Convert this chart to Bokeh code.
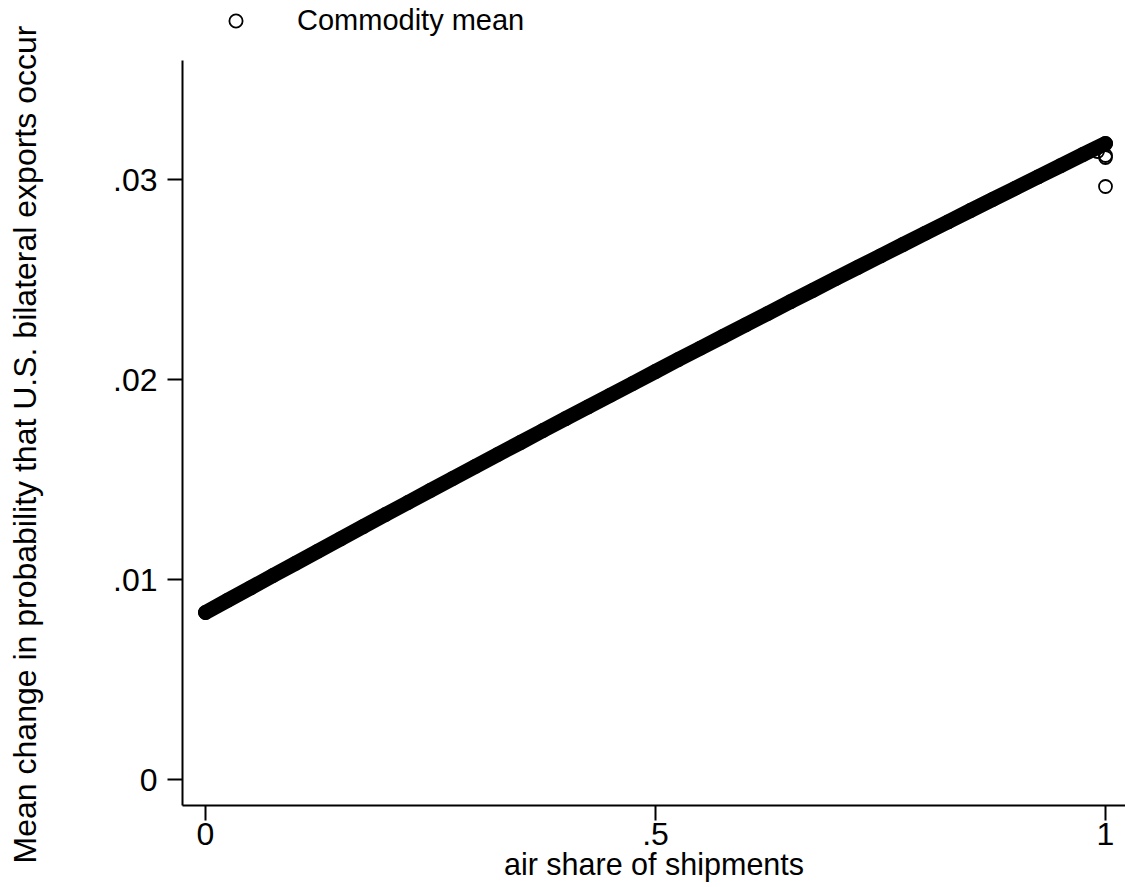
from bokeh.plotting import figure
from bokeh.models import Range1d, FixedTicker, Legend, LegendItem, Label
from bokeh.embed import file_html
from bokeh.resources import INLINE

# Commodity means (dense band of points)
band_x = [0.0, 0.025, 0.05, 0.075, 0.1, 0.125, 0.15, 0.175, 0.2, 0.225,
          0.25, 0.275, 0.3, 0.325, 0.35, 0.375, 0.4, 0.425, 0.45, 0.475,
          0.5, 0.525, 0.55, 0.575, 0.6, 0.625, 0.65, 0.675, 0.7, 0.725,
          0.75, 0.775, 0.8, 0.825, 0.85, 0.875, 0.9, 0.925, 0.95, 0.975, 1.0]
band_y = [0.00835, 0.00897, 0.00958, 0.01020, 0.01081, 0.01142, 0.01203, 0.01264, 0.01325, 0.01385,
          0.01446, 0.01506, 0.01566, 0.01626, 0.01685, 0.01745, 0.01804, 0.01863, 0.01922, 0.01981,
          0.02040, 0.02099, 0.02157, 0.02215, 0.02273, 0.02331, 0.02389, 0.02446, 0.02504, 0.02561,
          0.02618, 0.02675, 0.02732, 0.02788, 0.02845, 0.02901, 0.02957, 0.03013, 0.03069, 0.03125, 0.03180]
outlier_x = [0.991, 1.0, 1.0, 1.0]
outlier_y = [0.0314, 0.0312, 0.0311, 0.02965]

x_ticks = [0, 0.5, 1]
x_tick_labels = ["0", ".5", "1"]
y_ticks = [0, 0.01, 0.02, 0.03]
y_tick_labels = ["0", ".01", ".02", ".03"]
y_title = "Mean change in probability that U.S. bilateral exports occur"

FONT = "Liberation Sans"

# frame spans the full height; the y axis line is limited by its bounds
p = figure(width=1125, height=887, output_backend="svg", toolbar_location=None,
           x_range=Range1d(-0.02556, 1.02222), y_range=Range1d(-0.0013, 0.03895),
           min_border_left=182, min_border_right=0, min_border_top=0, min_border_bottom=82)
p.outline_line_color = None
p.xgrid.visible = False
p.ygrid.visible = False
p.background_fill_color = "white"
p.border_fill_color = "white"

# dense band of points
p.line(band_x, band_y, line_width=15, line_color="black", line_cap="round", line_join="round")
sc = p.scatter(band_x + outlier_x, band_y + outlier_y, marker="circle", size=13,
               fill_color=None, line_color="black", line_width=1.8)

xa = p.xaxis[0]
xa.ticker = FixedTicker(ticks=x_ticks)
xa.major_label_overrides = {t: l for t, l in zip(x_ticks, x_tick_labels)}
ya = p.yaxis[0]
ya.ticker = FixedTicker(ticks=y_ticks)
ya.major_label_overrides = {t: l for t, l in zip(y_ticks, y_tick_labels)}
ya.bounds = (-0.0013, 0.03595)

for ax in (xa, ya):
    ax.minor_tick_line_color = None
    ax.major_tick_in = 0
    ax.major_tick_out = 15
    ax.major_tick_line_width = 2
    ax.axis_line_width = 2
    ax.axis_line_color = "black"
    ax.major_tick_line_color = "black"
    ax.major_label_text_font = FONT
    ax.major_label_text_font_size = "32px"
    ax.major_label_text_color = "black"
    ax.axis_label_text_font = FONT
    ax.axis_label_text_font_style = "normal"
    ax.axis_label_text_color = "black"

xa.axis_label = "air share of shipments"
xa.axis_label_text_font_size = "30.5px"
xa.major_label_standoff = 2
xa.axis_label_standoff = -1
ya.major_label_standoff = 10

# y axis title, placed in the left border (centred on the whole page height)
ytitle = Label(text=y_title, x=-0.2011, y=0.01675, x_units="data", y_units="data",
               angle=90, angle_units="deg", text_align="center", text_baseline="middle",
               text_font=FONT, text_font_size="32px", text_color="black")
p.add_layout(ytitle, "left")

legend = Legend(items=[LegendItem(label="Commodity mean", renderers=[sc])],
                location=(37, 768), padding=0, margin=0, spacing=0,
                glyph_width=33, glyph_height=33, label_standoff=45,
                border_line_alpha=0, background_fill_alpha=0,
                label_text_font=FONT, label_text_font_size="29px", label_text_color="black")
p.add_layout(legend)

open("out.html", "w").write(file_html(p, INLINE))
